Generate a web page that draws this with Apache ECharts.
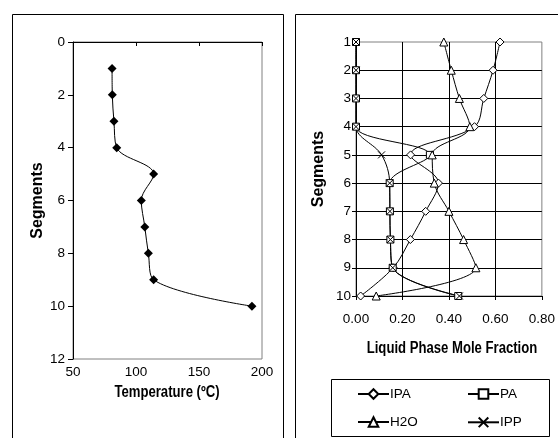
<!DOCTYPE html>
<html>
<head>
<meta charset="utf-8">
<script src="https://cdn.jsdelivr.net/npm/echarts@6/dist/echarts.min.js"></script>
<style>
  html, body { margin: 0; padding: 0; background: #fff; }
  #chart { width: 558px; height: 438px; }
</style>
</head>
<body>
<div id="chart"></div>
<script>
// values
var segments = [1, 2, 3, 4, 5, 6, 7, 8, 9, 10];
var temperature = [81, 81.2, 82.5, 84.7, 114, 104.2, 107, 109.8, 114, 192];
var ipa = [0.62, 0.59, 0.55, 0.51, 0.235, 0.355, 0.30, 0.234, 0.16, 0.02];
var pa = [0, 0, 0, 0, 0.318, 0.145, 0.146, 0.148, 0.158, 0.44];
var h2o = [0.378, 0.41, 0.445, 0.49, 0.328, 0.337, 0.40, 0.463, 0.516, 0.087];
var ipp = [0, 0, 0, 0, 0.11, 0.145, 0.146, 0.148, 0.158, 0.445];
var tempTicks = [50, 100, 150, 200];

var font = '"Liberation Sans", Arial, sans-serif';

function pairs(xs) {
  return xs.map(function (x, i) { return [x, segments[i]]; });
}

var crossPath = 'path://M0,0L10,10M10,0L0,10';

function fracSeries(name, vals, symbol, size) {
  return {
    name: name,
    type: 'line',
    xAxisIndex: 1,
    yAxisIndex: 1,
    data: pairs(vals),
    smooth: 0.35,
    symbol: symbol,
    symbolSize: size,
    showAllSymbol: true,
    lineStyle: { color: '#000', width: 1 },
    itemStyle: {
      color: symbol === crossPath ? 'none' : '#fff',
      borderColor: '#000',
      borderWidth: 1
    },
    emphasis: { disabled: true }
  };
}

function legendAt(name, left, top) {
  return {
    data: [name],
    left: left,
    top: top,
    padding: 0,
    itemWidth: 31,
    itemHeight: 12,
    selectedMode: false,
    textStyle: { fontFamily: font, fontSize: 13.5, color: '#000', padding: [0, 0, 0, -4] }
  };
}

// the x titles look squeezed sideways, so they are drawn as text scaled on x
function xTitle(text, x, y) {
  return {
    type: 'text', x: x, y: y, scaleX: 0.82, z: 10,
    style: { text: text, fill: '#000', font: 'bold 16px ' + font,
      align: 'center', verticalAlign: 'middle' }
  };
}

var labelStyle = { fontSize: 13.5, color: '#000', fontFamily: font };
var vTitleStyle = { fontFamily: font, fontSize: 16, fontWeight: 'bold', color: '#000' };

var chart = echarts.init(document.getElementById('chart'), null, { renderer: 'canvas' });

chart.setOption({
  backgroundColor: '#fff',
  animation: false,
  graphic: [
    { type: 'rect', shape: { x: 12.5, y: 14.5, width: 271, height: 440 },
      style: { fill: 'none', stroke: '#000', lineWidth: 1 }, z: 0 },
    { type: 'rect', shape: { x: 295.5, y: 14.5, width: 280, height: 440 },
      style: { fill: 'none', stroke: '#000', lineWidth: 1 }, z: 0 },
    { type: 'rect', shape: { x: 331.5, y: 379.5, width: 218, height: 57 },
      style: { fill: 'none', stroke: '#000', lineWidth: 1 }, z: 0 },
    xTitle('Temperature (\u00baC)', 167, 393),
    xTitle('Liquid Phase Mole Fraction', 452, 349)
  ],
  grid: [
    { left: 73, top: 42, width: 189, height: 317, show: true,
      borderColor: '#808080', borderWidth: 1 },
    { left: 356, top: 42, width: 190, height: 254, show: true,
      borderColor: '#808080', borderWidth: 1 }
  ],
  xAxis: [
    {
      type: 'value', gridIndex: 0, min: 50, max: 200, interval: 50,
      axisLine: { show: true, lineStyle: { color: '#000', width: 1 } },
      axisTick: { show: true, length: 4, lineStyle: { color: '#000' } },
      axisLabel: Object.assign({ margin: 6, customValues: tempTicks }, labelStyle),
      splitLine: { show: false }
    },
    {
      type: 'value', gridIndex: 1, min: 0, max: 0.8, interval: 0.2,
      axisLine: { show: true, onZero: false, lineStyle: { color: '#000', width: 1 } },
      axisTick: { show: true, length: 4, lineStyle: { color: '#000' } },
      axisLabel: Object.assign({ margin: 16,
        formatter: function (v) { return v.toFixed(2); } }, labelStyle),
      splitLine: { show: true, showMinLine: false, showMaxLine: false,
        lineStyle: { color: '#000', width: 1 } }
    }
  ],
  yAxis: [
    {
      type: 'value', gridIndex: 0, min: 0, max: 12, interval: 2, inverse: true,
      name: 'Segments', nameLocation: 'middle', nameGap: 27,
      nameTextStyle: vTitleStyle,
      axisLine: { show: true, lineStyle: { color: '#000', width: 1 } },
      axisTick: { show: true, length: 5, lineStyle: { color: '#000' } },
      axisLabel: Object.assign({ margin: 8 }, labelStyle),
      splitLine: { show: false }
    },
    {
      type: 'value', gridIndex: 1, min: 1, max: 10, interval: 1, inverse: true,
      name: 'Segments', nameLocation: 'middle', nameGap: 29,
      nameTextStyle: vTitleStyle,
      axisLine: { show: true, onZero: false, lineStyle: { color: '#000', width: 1 } },
      axisTick: { show: true, length: 4, lineStyle: { color: '#000' } },
      axisLabel: Object.assign({ margin: 5 }, labelStyle),
      splitLine: { show: true, showMinLine: false, showMaxLine: false,
        lineStyle: { color: '#000', width: 1 } }
    }
  ],
  legend: [
    legendAt('IPA', 357, 387),
    legendAt('PA', 467, 387),
    legendAt('H2O', 357, 415),
    legendAt('IPP', 467, 415)
  ],
  series: [
    {
      name: 'Temperature',
      type: 'line',
      xAxisIndex: 0,
      yAxisIndex: 0,
      data: pairs(temperature),
      smooth: 0.35,
      symbol: 'diamond',
      symbolSize: 9,
      lineStyle: { color: '#000', width: 1 },
      itemStyle: { color: '#000' },
      emphasis: { disabled: true }
    },
    fracSeries('IPA', ipa, 'diamond', 8),
    fracSeries('PA', pa, 'rect', 7),
    fracSeries('H2O', h2o, 'triangle', 8),
    fracSeries('IPP', ipp, crossPath, 7)
  ]
});
</script>
</body>
</html>
